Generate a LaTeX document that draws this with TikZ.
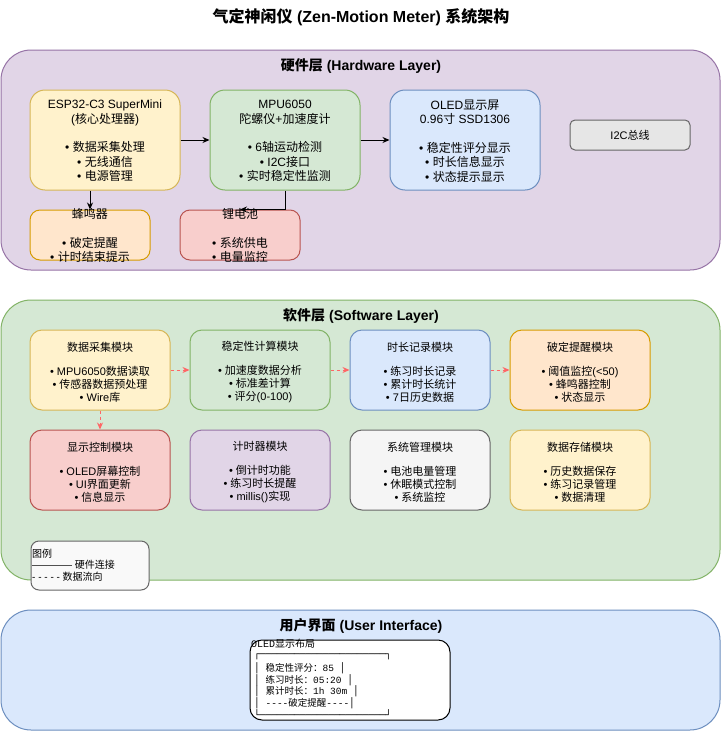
\documentclass[tikz,border=0pt]{standalone}
\usepackage{fontspec}
\setmainfont{Liberation Sans}
\newfontfamily\cjk{Noto Sans CJK SC}
\newfontfamily\lmono{Liberation Mono}
\newfontfamily\bxf{DejaVu Sans Mono}
\usetikzlibrary{arrows.meta}
\makeatletter
\XeTeXinterchartokenstate=1
\newXeTeXintercharclass\cjkcls
\count@="3000
\loop \XeTeXcharclass\count@=\cjkcls \advance\count@ by 1 \ifnum\count@<"3040 \repeat
\count@="4E00
\loop \XeTeXcharclass\count@=\cjkcls \advance\count@ by 1 \ifnum\count@<"A000 \repeat
\count@="FF00
\loop \XeTeXcharclass\count@=\cjkcls \advance\count@ by 1 \ifnum\count@<"FFF0 \repeat
\makeatother
\XeTeXinterchartoks 0 \cjkcls = {\cjk}
\XeTeXinterchartoks 4095 \cjkcls = {\cjk}
\XeTeXinterchartoks \cjkcls 0 = {\rmfamily}
\XeTeXinterchartoks \cjkcls 4095 = {\rmfamily}
\def\hy{-\kern0pt}
\def\nointer{\XeTeXinterchartokenstate=0\relax}
\definecolor{purF}{HTML}{E1D5E7}\definecolor{purD}{HTML}{9673A6}
\definecolor{grnF}{HTML}{D5E8D4}\definecolor{grnD}{HTML}{82B366}
\definecolor{bluF}{HTML}{DAE8FC}\definecolor{bluD}{HTML}{6C8EBF}
\definecolor{yelF}{HTML}{FFF2CC}\definecolor{yelD}{HTML}{D6B656}
\definecolor{orgF}{HTML}{FFE6CC}\definecolor{orgD}{HTML}{D79B00}
\definecolor{redF}{HTML}{F8CECC}\definecolor{redD}{HTML}{B85450}
\definecolor{gryF}{HTML}{F5F5F5}\definecolor{gryD}{HTML}{666666}
\definecolor{i2cF}{HTML}{E6E6E6}
\definecolor{legF}{HTML}{F9F9F9}
\definecolor{flow}{HTML}{FF6666}
\tikzset{
  lay/.style={draw, line width=1pt, rounded corners=30pt, inner sep=0pt, minimum width=719pt},
  bx/.style={draw, line width=1pt, inner sep=0pt},
  hwb/.style={bx, rounded corners=15pt, minimum width=150pt, minimum height=100pt},
  hws/.style={bx, rounded corners=10pt, minimum width=120pt, minimum height=50pt},
  swb/.style={bx, rounded corners=12pt, minimum width=140pt, minimum height=80pt},
  ttl/.style={font=\fontsize{14}{16}\selectfont\bfseries, inner sep=0pt},
  hwtxt/.style={align=center, font=\fontsize{12}{14.5}\selectfont, inner sep=0pt},
  swtxt/.style={align=center, font=\fontsize{11}{13}\selectfont, inner sep=0pt},
  oltxt/.style={anchor=west, inner sep=0pt, font={\nointer\fontsize{9.5}{11.5}\selectfont\lmono}},
  hwarr/.style={draw=black, line width=1pt, -{Stealth[length=7pt,width=6pt]}},
  flowarr/.style={draw=flow, line width=1pt, dash pattern=on 3pt off 3pt, -{Stealth[length=7pt,width=6pt]}},
}
\begin{document}
\begin{tikzpicture}[x=1pt,y=-1pt]
\useasboundingbox (0,0) rectangle (721,731);
\fill[white] (0,0) rectangle (721,731);

\node[font=\fontsize{16}{19}\selectfont\bfseries, inner sep=0pt] (title) at (361,17) {气定神闲仪 (Zen-Motion Meter) 系统架构};

% hardware layer
\node[lay, fill=purF, draw=purD, minimum height=220pt] (hwl) at (360.5,160) {};
\node[ttl] (hwt) at (361,66) {硬件层 (Hardware Layer)};
\node[hwb, fill=yelF, draw=yelD] (esp) at (105,140) {};
\node[hwb, fill=grnF, draw=grnD] (mpu) at (285,140) {};
\node[hwb, fill=bluF, draw=bluD] (oled) at (465,140) {};
\node[bx, rounded corners=5pt, fill=i2cF, draw=gryD, minimum width=120pt, minimum height=30pt, font=\fontsize{11}{13}\selectfont] (i2c) at (630,135) {I2C总线};
\node[hws, fill=orgF, draw=orgD] (buz) at (90,235) {};
\node[hws, fill=redF, draw=redD] (bat) at (240,235) {};
\node[hwtxt, yshift=-1pt] (espt) at (esp) {ESP32-C3 SuperMini\\(核心处理器)\\[14pt]• 数据采集处理\\• 无线通信\\• 电源管理};
\node[hwtxt, yshift=-1pt] (mput) at (mpu) {MPU6050\\陀螺仪+加速度计\\[14pt]• 6轴运动检测\\• I2C接口\\• 实时稳定性监测};
\node[hwtxt, yshift=-1pt] (oledt) at (oled) {OLED显示屏\\0.96寸 SSD1306\\[14pt]• 稳定性评分显示\\• 时长信息显示\\• 状态提示显示};
\node[hwtxt, yshift=-0.5pt] (buzt) at (buz) {蜂鸣器\\[14pt]• 破定提醒\\• 计时结束提示};
\node[hwtxt, yshift=-0.5pt] (batt) at (bat) {锂电池\\[14pt]• 系统供电\\• 电量监控};
\draw[hwarr] (esp) -- (mpu);
\draw[hwarr] (mpu) -- (oled);
\draw[hwarr] (esp.south -| buz.north) -- (buz.north);
\draw[hwarr] (mpu.south) -- (mpu.south |- bat.north) -- (bat.north);

% software layer
\node[lay, fill=grnF, draw=grnD, minimum height=280pt] (swl) at (360.5,440) {};
\node[ttl] (swt) at (361,316) {软件层 (Software Layer)};
\node[swb, fill=yelF, draw=yelD] (s1) at (100,370) {};
\node[swb, fill=grnF, draw=grnD] (s2) at (260,370) {};
\node[swb, fill=bluF, draw=bluD] (s3) at (420,370) {};
\node[swb, fill=orgF, draw=orgD] (s4) at (580,370) {};
\node[swb, fill=redF, draw=redD] (s5) at (100,470) {};
\node[swb, fill=purF, draw=purD] (s6) at (260,470) {};
\node[swb, fill=gryF, draw=gryD] (s7) at (420,470) {};
\node[swb, fill=yelF, draw=yelD] (s8) at (580,470) {};
\node[swtxt, yshift=-2pt] (s1t) at (s1) {数据采集模块\\[11pt]• MPU6050数据读取\\• 传感器数据预处理\\• Wire库};
\node[swtxt, yshift=-2pt] (s2t) at (s2) {稳定性计算模块\\[11pt]• 加速度数据分析\\• 标准差计算\\• 评分(0-100)};
\node[swtxt, yshift=-2pt] (s3t) at (s3) {时长记录模块\\[11pt]• 练习时长记录\\• 累计时长统计\\• 7日历史数据};
\node[swtxt, yshift=-2pt] (s4t) at (s4) {破定提醒模块\\[11pt]• 阈值监控(<50)\\• 蜂鸣器控制\\• 状态显示};
\node[swtxt, yshift=-2pt] (s5t) at (s5) {显示控制模块\\[11pt]• OLED屏幕控制\\• UI界面更新\\• 信息显示};
\node[swtxt, yshift=-2pt] (s6t) at (s6) {计时器模块\\[11pt]• 倒计时功能\\• 练习时长提醒\\• millis()实现};
\node[swtxt, yshift=-2pt] (s7t) at (s7) {系统管理模块\\[11pt]• 电池电量管理\\• 休眠模式控制\\• 系统监控};
\node[swtxt, yshift=-2pt] (s8t) at (s8) {数据存储模块\\[11pt]• 历史数据保存\\• 练习记录管理\\• 数据清理};
\draw[flowarr] (s1) -- (s2);
\draw[flowarr] (s2) -- (s3);
\draw[flowarr] (s3) -- (s4);
\draw[flowarr] (s1) -- (s5);

% legend
\node[bx, rounded corners=8pt, fill=legF, draw=gryD, minimum width=118pt, minimum height=49pt] (leg) at (90,565.5) {};
\node[anchor=north west, align=left, inner sep=0pt, font=\fontsize{10}{11.5}\selectfont] (legt) at (32,548.5) {图例\\———— 硬件连接\\- - - - - 数据流向};

% user interface layer
\node[lay, fill=bluF, draw=bluD, minimum height=120pt] (uil) at (360.5,670) {};
\node[ttl] (uit) at (361,626) {用户界面 (User Interface)};
\node[bx, rounded corners=12pt, fill=white, draw=black, minimum width=200pt, minimum height=80pt] (lay) at (350,680) {};
\node[oltxt, font={\nointer\fontsize{10}{11}\selectfont\lmono}] (o0) at (251,644) {OLED{\cjk 显示布局}};
\node[oltxt] (o1) at (254,657) {{\bxf ┌──────────────────────┐}};
\node[oltxt] (o2) at (254,668.5) {{\bxf │} {\cjk 稳定性评分：}85 {\bxf │}};
\node[oltxt] (o3) at (254,680) {{\bxf │} {\cjk 练习时长：}05:20 {\bxf │}};
\node[oltxt] (o4) at (254,691.5) {{\bxf │} {\cjk 累计时长：}1h 30m {\bxf │}};
\node[oltxt] (o5) at (254,703) {{\bxf │} \hy\hy\hy\hy{\cjk 破定提醒}\hy\hy\hy\hy {\bxf │}};
\node[oltxt] (o6) at (254,714.5) {{\bxf └──────────────────────┘}};
\end{tikzpicture}
\end{document}
